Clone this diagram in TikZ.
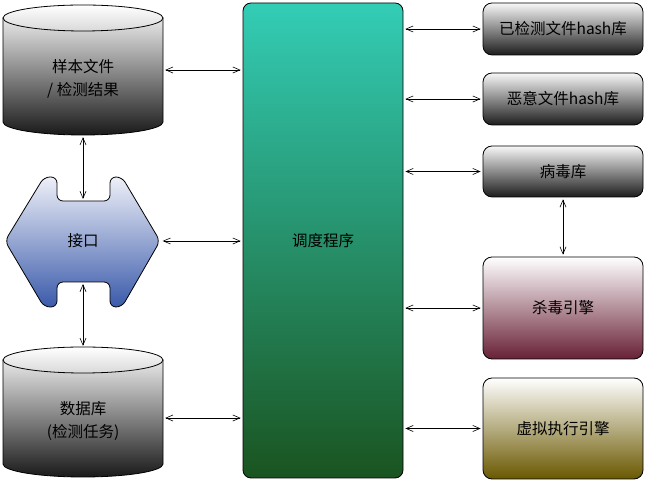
\documentclass[tikz,border=0pt]{standalone}
\usepackage{fontspec}
\setmainfont{Noto Sans CJK SC}
\usetikzlibrary{arrows.meta,positioning,calc}
\definecolor{schedtop}{HTML}{33CDB6}
\definecolor{schedbot}{HTML}{1A5420}
\definecolor{ifacetop}{HTML}{EEF0F8}
\definecolor{ifacebot}{HTML}{3A5AAA}
\definecolor{killbot}{HTML}{682036}
\definecolor{vmbot}{HTML}{6A5800}

\begin{document}
\begin{tikzpicture}[x=1pt,y=1pt,
  box/.style={draw,line width=0.8pt,rounded corners=9pt,minimum width=160pt,inner sep=0pt},
  graybox/.style={box,top color=gray!6,bottom color=gray!22!black},
  lbl/.style={font=\fontsize{15.5}{23}\selectfont,align=center},
  biarrow/.style={{Straight Barb[length=7pt,width=6pt]}-{Straight Barb[length=7pt,width=6pt]},line width=0.6pt,shorten <=2pt,shorten >=2pt}]
\useasboundingbox (0,0) rectangle (645,481);
\begin{scope}
  % the two cylinders
  \foreach \t in {463,121}{
    \shade[top color=gray!18,bottom color=gray!20!black,draw,line width=0.8pt] (3,\t) -- (3,\t-104) arc[start angle=180,end angle=360,x radius=80,y radius=13] -- (163,\t) -- cycle;
    \shade[top color=white,bottom color=gray!30,draw,line width=0.8pt] (83,\t) ellipse[x radius=80,y radius=13];
  }
  \node[minimum width=160pt,minimum height=130pt] (sample) at (83,411) {};
  \node[lbl] (sampletxt) at (83,402) {样本文件\\/ 检测结果};
  \node[minimum width=160pt,minimum height=130pt] (dbase) at (83,68) {};
  \node[lbl] (dbasetxt) at (83,60) {数据库\\(检测任务)};
  % interface
  \shade[top color=ifacetop,bottom color=ifacebot,draw,line width=0.8pt,rounded corners=6pt]
    (5,240) -- (44,304) -- (57,304) -- (57,280) -- (110,280) -- (110,304) -- (122,304)
    -- (160,240) -- (122,174) -- (110,174) -- (110,199) -- (57,199) -- (57,174) -- (44,174) -- cycle;
  \node[lbl,minimum width=155pt,minimum height=130pt] (iface) at (83,240) {接口};
  \coordinate (ifacetop) at (83,280);
  \coordinate (ifacebot) at (83,199);
  % scheduler
  \node[box,rounded corners=8pt,minimum height=475pt,top color=schedtop,bottom color=schedbot,lbl] (sched) at (323,240.5) {调度程序};
  % right column
  \node[graybox,minimum height=52pt,lbl] (hashdone) at (563,452) {已检测文件hash库};
  \node[graybox,minimum height=52pt,lbl] (hashbad) at (563,382) {恶意文件hash库};
  \node[graybox,minimum height=51pt,lbl] (virusdb) at (563,309.5) {病毒库};
  \node[box,minimum height=102pt,top color=white,bottom color=killbot,lbl] (engine) at (563,173) {杀毒引擎};
  \node[box,minimum height=101pt,top color=white,bottom color=vmbot,lbl] (vm) at (563,52.5) {虚拟执行引擎};
  % connectors
  \draw[biarrow] (sample.east) -- (sample.east -| sched.west);
  \draw[biarrow] (iface.east) -- (iface.east -| sched.west);
  \draw[biarrow] ([yshift=-5pt]dbase.east) -- ([yshift=-5pt]dbase.east -| sched.west);
  \draw[biarrow] (sample.south) -- (ifacetop);
  \draw[biarrow] (ifacebot) -- (dbase.north);
  \foreach \n in {hashdone,hashbad,virusdb,engine,vm}
    \draw[biarrow] (\n.west -| sched.east) -- (\n.west);
  \draw[biarrow] (virusdb.south) -- (engine.north);
\end{scope}
\end{tikzpicture}
\end{document}
